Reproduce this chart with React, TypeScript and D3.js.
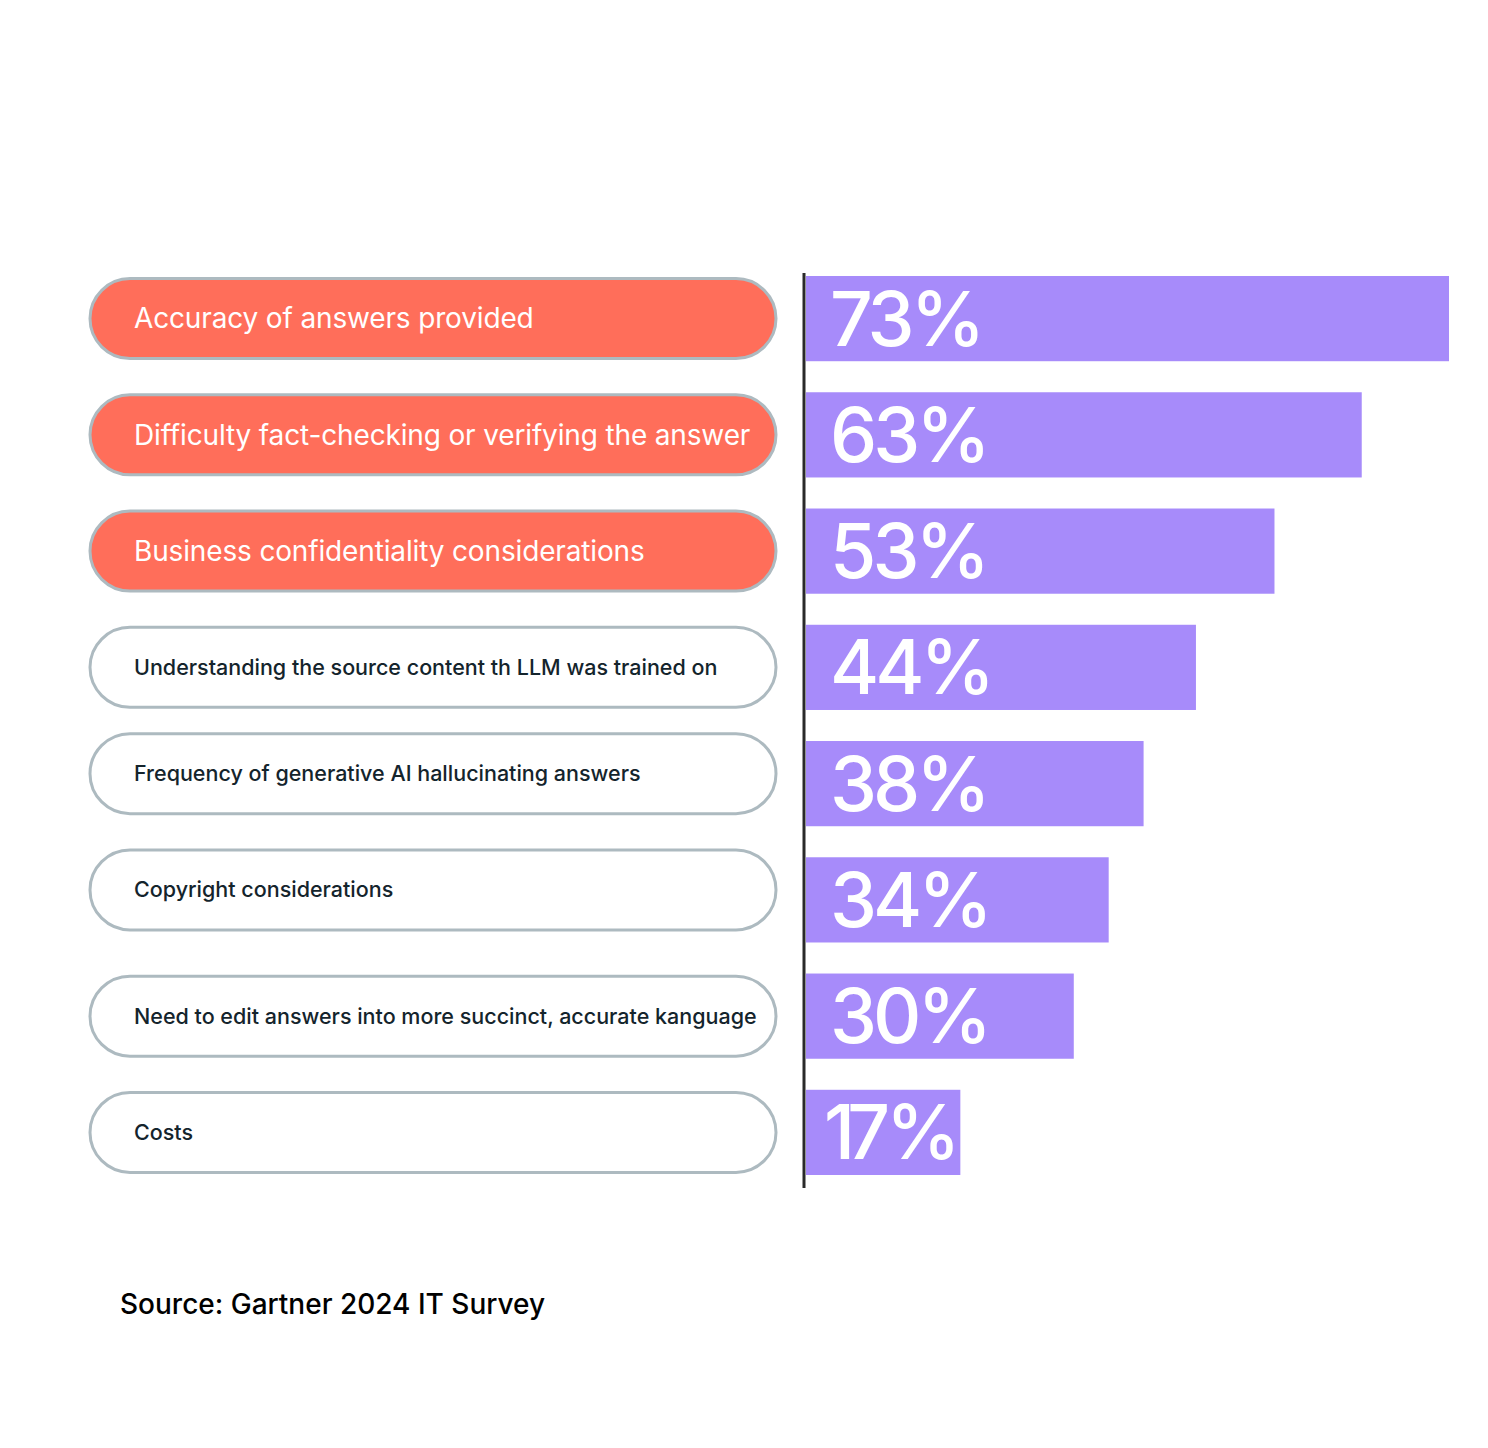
import React from "react";
import * as d3 from "d3";

const categories = [
  "Accuracy of answers provided",
  "Difficulty fact-checking or verifying the answer",
  "Business confidentiality considerations",
  "Understanding the source content th LLM was trained on",
  "Frequency of generative AI hallucinating answers",
  "Copyright considerations",
  "Need to edit answers into more succinct, accurate kanguage",
  "Costs",
];
const values = [73, 63, 53, 44, 38, 34, 30, 17];
const highlighted = [true, true, true, false, false, false, false, false];
const sourceNote = "Source: Gartner 2024 IT Survey";

// layout-only nudges for pill labels (reference has slight vertical offsets)
const pillNudge = [0, 0, 0, 0, -10, -10, 0, 0];

const W = 1488;
const H = 1448;

export default function App() {
  const axisX = 806;
  const x = d3.scaleLinear().domain([0, 73]).range([812, 1449]);
  const y = d3
    .scaleBand<number>()
    .domain(d3.range(values.length))
    .range([276, 1175])
    .paddingInner(0.267)
    .paddingOuter(0);
  const bh = y.bandwidth();
  const font = "Inter, 'Noto Sans', sans-serif";

  return (
    <svg width={W} height={H} viewBox={`0 0 ${W} ${H}`} style={{ display: "block", position: "absolute", left: 0, top: 0 }}>
      <rect width={W} height={H} fill="#ffffff" />
      {values.map((v, i) => {
        const y0 = y(i)!;
        const cy = y0 + bh / 2 + pillNudge[i];
        const ph = 80;
        return (
          <g key={i}>
            <rect
              x={90}
              y={cy - ph / 2}
              width={686}
              height={ph}
              rx={ph / 2}
              ry={ph / 2}
              fill={highlighted[i] ? "#ff6e5a" : "#ffffff"}
              stroke="#adbac0"
              strokeWidth={3}
            />
            <text
              x={134}
              y={cy}
              dy="0.35em"
              fontFamily={font}
              fontSize={highlighted[i] ? 28 : 21.5}
              fontWeight={highlighted[i] ? 400 : 500}
              letterSpacing={highlighted[i] ? -0.15 : 0}
              fill={highlighted[i] ? "#ffffff" : "#14242c"}
            >
              {categories[i]}
            </text>
            <rect x={axisX} y={y0} width={x(v) - axisX} height={bh} fill="#a78bfa" />
            <text
              x={830}
              y={y0 + bh / 2}
              dy="0.36em"
              fontFamily={font}
              fontSize={75}
              fontWeight={500}
              letterSpacing={-4}
              fill="#ffffff"
            >
              {String(v)
                .split("")
                .map((ch, k) => (
                  <tspan key={k} dx={ch === "1" && k === 0 ? -6 : 0} letterSpacing={ch === "1" ? -8 : -4}>
                    {ch}
                  </tspan>
                ))}
              <tspan>%</tspan>
            </text>
          </g>
        );
      })}
      <line x1={804} x2={804} y1={273} y2={1188} stroke="#2a2a2a" strokeWidth={3} />
      <text x={120} y={1314} fontFamily={font} fontSize={28} fontWeight={500} letterSpacing={0} fill="#000000">
        {sourceNote}
      </text>
    </svg>
  );
}
